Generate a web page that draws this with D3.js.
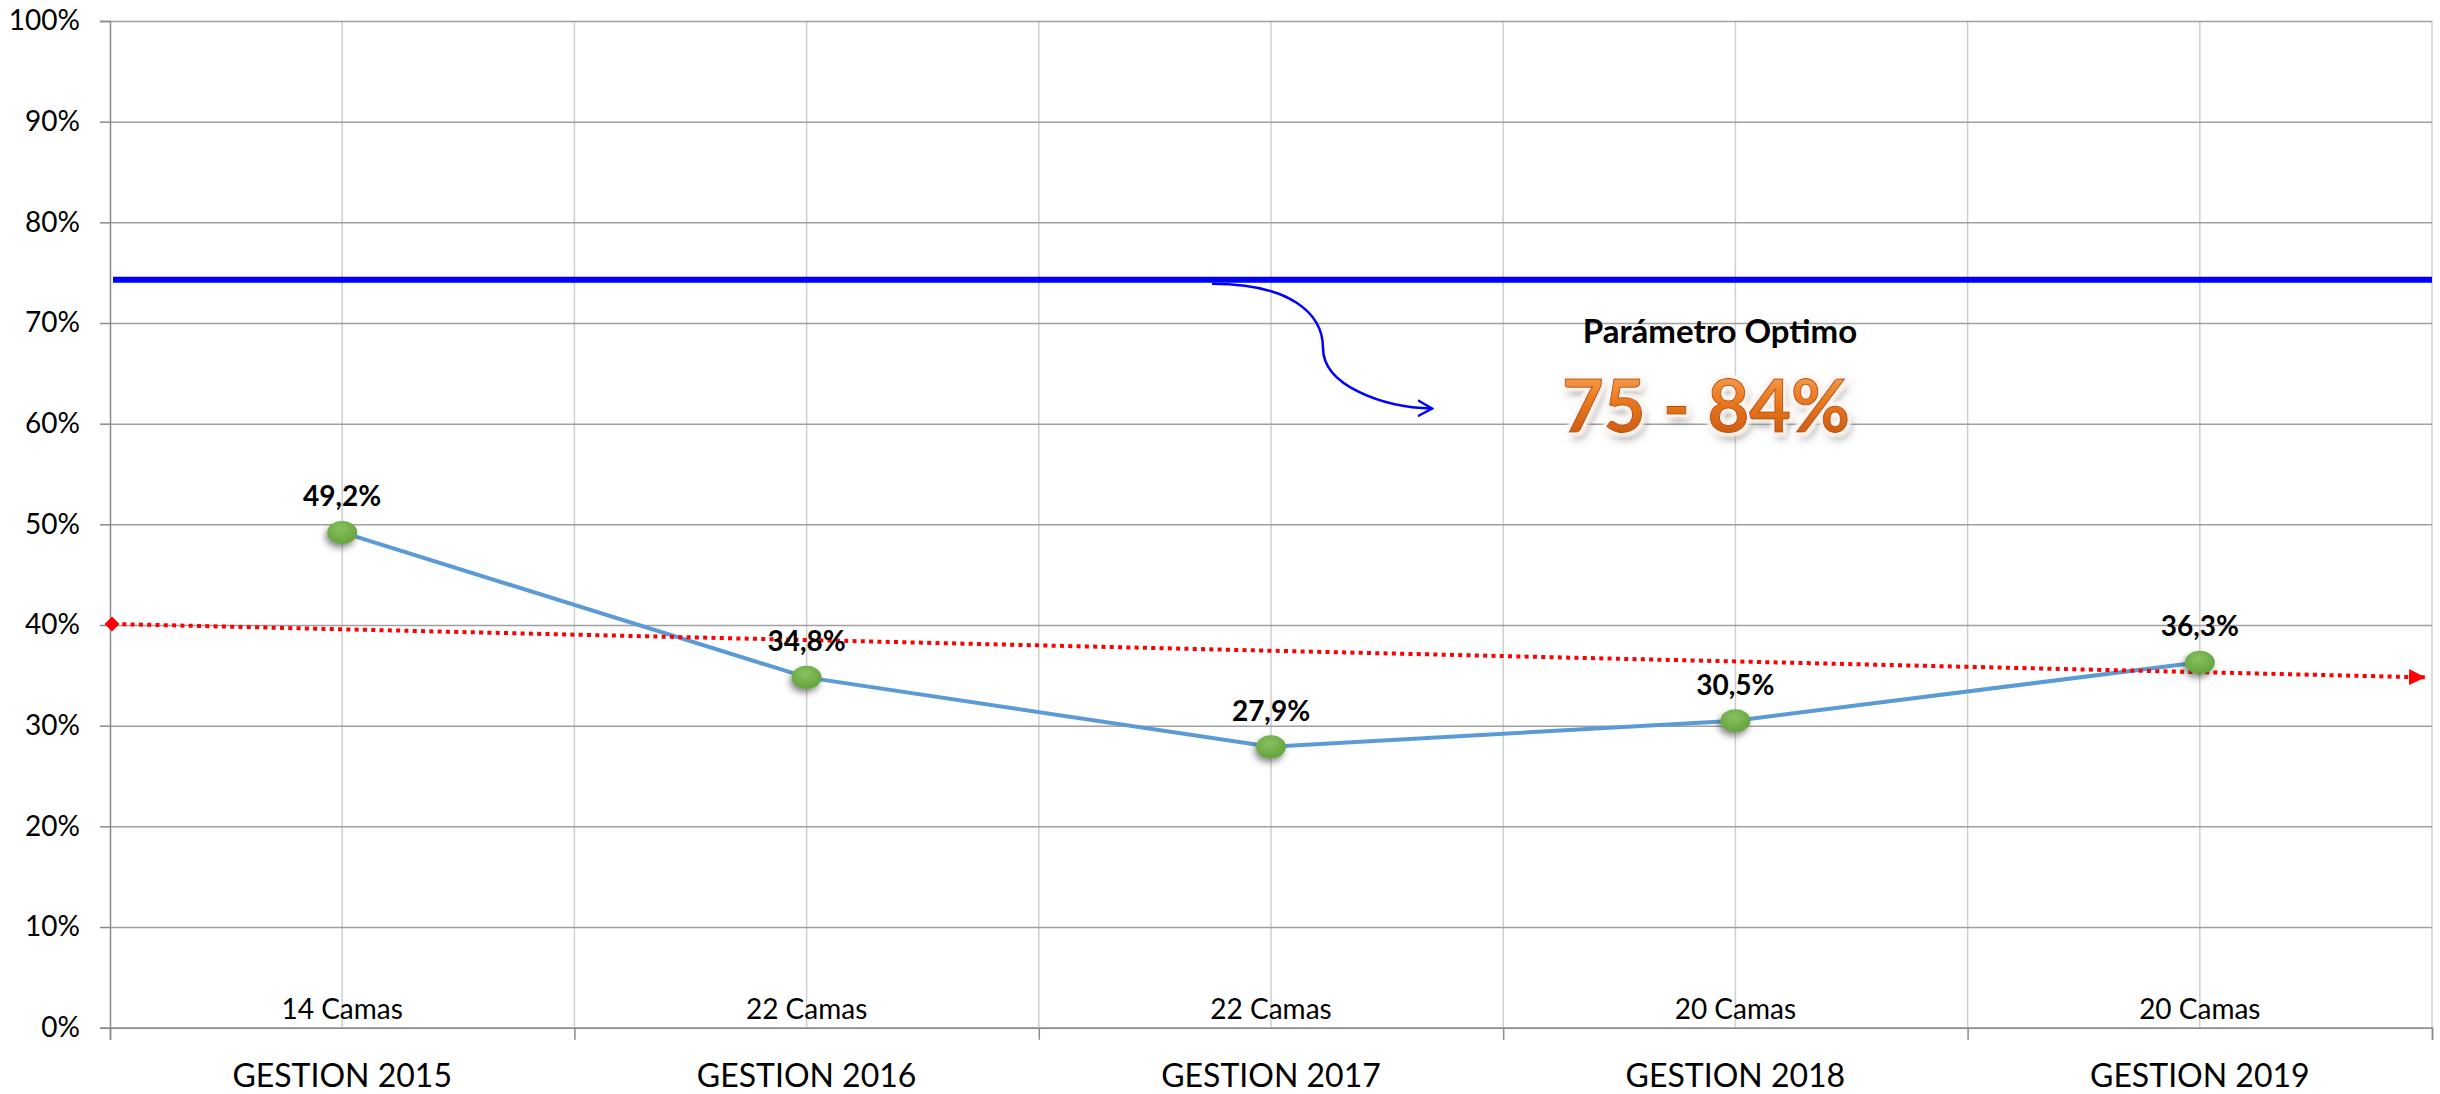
<!DOCTYPE html>
<html>
<head>
<meta charset="utf-8">
<script src="https://cdn.jsdelivr.net/npm/d3@7"></script>
<style>
  body { margin: 0; background: #fff; }
  svg { display: block; font-family: Lato, "Open Sans", sans-serif; }
</style>
</head>
<body>
<div id="chart"></div>
<script>
// data
var gestiones = ["GESTION 2015", "GESTION 2016", "GESTION 2017", "GESTION 2018", "GESTION 2019"];
var camas = ["14 Camas", "22 Camas", "22 Camas", "20 Camas", "20 Camas"];
var ocupacion = [49.2, 34.8, 27.9, 30.5, 36.3];
var yTicks = [0, 10, 20, 30, 40, 50, 60, 70, 80, 90, 100];
var optimo = 74.3;            // blue reference line
var tendencia = [40.1, 34.8]; // red dotted trend, start / end
var paramTitulo = "Parámetro Optimo";
var paramRango = "75 - 84%";

var svgWidth = 2440;
var svgHeight = 1094;
// plot box
var pLeft = 110, pRight = 2432, pTop = 21, pBottom = 1027.7;

var x = d3.scaleLinear().domain([0, gestiones.length]).range([pLeft, pRight]);
var y = d3.scaleLinear().domain([0, 100]).range([pBottom, pTop]);

var svg = d3.select("#chart")
    .append("svg")
    .attr("width", svgWidth)
    .attr("height", svgHeight);

var defs = svg.append("defs");

// marker look
var gGreen = defs.append("radialGradient").attr("id", "greenDot")
    .attr("cx", "45%").attr("cy", "35%").attr("r", "70%");
gGreen.append("stop").attr("offset", "0%").attr("stop-color", "#86c25e");
gGreen.append("stop").attr("offset", "100%").attr("stop-color", "#62a03a");

var shadow = defs.append("filter").attr("id", "dotShadow")
    .attr("x", "-60%").attr("y", "-60%").attr("width", "220%").attr("height", "240%");
shadow.append("feDropShadow").attr("dx", -2).attr("dy", 4)
    .attr("stdDeviation", 3).attr("flood-color", "#333").attr("flood-opacity", 0.55);

// orange big text
var gOrange = defs.append("linearGradient").attr("id", "orangeTxt")
    .attr("x1", 0).attr("y1", 0).attr("x2", 0).attr("y2", 1);
gOrange.append("stop").attr("offset", "0%").attr("stop-color", "#fbb06a");
gOrange.append("stop").attr("offset", "45%").attr("stop-color", "#ec7a1c");
gOrange.append("stop").attr("offset", "100%").attr("stop-color", "#c0520a");

var glow = defs.append("filter").attr("id", "glow")
    .attr("x", "-15%").attr("y", "-40%").attr("width", "130%").attr("height", "190%");
glow.append("feGaussianBlur").attr("in", "SourceAlpha").attr("stdDeviation", 4).attr("result", "sb");
glow.append("feOffset").attr("in", "sb").attr("dx", 3).attr("dy", 6).attr("result", "so");
glow.append("feFlood").attr("flood-color", "#555").attr("flood-opacity", 0.6).attr("result", "sc");
glow.append("feComposite").attr("in", "sc").attr("in2", "so").attr("operator", "in").attr("result", "shadow");
glow.append("feMorphology").attr("in", "SourceAlpha").attr("operator", "dilate").attr("radius", 3).attr("result", "dl");
glow.append("feGaussianBlur").attr("in", "dl").attr("stdDeviation", 1.5).attr("result", "dlb");
glow.append("feFlood").attr("flood-color", "#fff5ee").attr("result", "wc");
glow.append("feComposite").attr("in", "wc").attr("in2", "dlb").attr("operator", "in").attr("result", "white");
var merge = glow.append("feMerge");
merge.append("feMergeNode").attr("in", "shadow");
merge.append("feMergeNode").attr("in", "white");
merge.append("feMergeNode").attr("in", "SourceGraphic");

// arrow heads
defs.append("marker").attr("id", "redHead")
    .attr("viewBox", "0 0 10 10").attr("refX", 10).attr("refY", 5)
    .attr("markerUnits", "userSpaceOnUse").attr("markerWidth", 16).attr("markerHeight", 16)
    .attr("orient", "auto")
  .append("path").attr("d", "M0,0 L10,5 L0,10 Z").attr("fill", "#ff0000");

defs.append("marker").attr("id", "blueHead")
    .attr("viewBox", "0 0 10 10").attr("refX", 9).attr("refY", 5)
    .attr("markerUnits", "userSpaceOnUse").attr("markerWidth", 16).attr("markerHeight", 20)
    .attr("orient", "auto")
  .append("path").attr("d", "M0,0 L9,5 L0,10").attr("fill", "none")
    .attr("stroke", "#0000ff").attr("stroke-width", 1.5);

// vertical grid (centers + boundaries)
svg.append("g")
    .selectAll("line")
    .data(d3.range(0.5, gestiones.length + 0.01, 0.5))
    .enter()
    .append("line")
    .attr("x1", d => x(d)).attr("x2", d => x(d))
    .attr("y1", y(100)).attr("y2", y(0))
    .attr("stroke", "#cfcfcf").attr("stroke-width", 1.5);

// horizontal grid
svg.append("g")
    .attr("transform", "translate(" + pLeft + ",0)")
    .call(d3.axisLeft(y).tickValues(yTicks).tickSize(-(pRight - pLeft)).tickFormat(""))
    .call(g => g.select(".domain").remove())
    .selectAll("line").attr("stroke", "#a0a0a0").attr("stroke-width", 1.5);

// y axis
var yAxis = svg.append("g")
    .attr("transform", "translate(" + pLeft + ",0)")
    .call(d3.axisLeft(y).tickValues(yTicks).tickSize(10).tickPadding(20).tickFormat(d => d + "%"));
yAxis.select(".domain").attr("stroke", "#8a8a8a").attr("stroke-width", 1.5);
yAxis.selectAll("line").attr("stroke", "#8a8a8a").attr("stroke-width", 1.5);
yAxis.selectAll("text").attr("font-size", 28).attr("fill", "#000")
    .attr("font-family", "Lato, sans-serif");

// x axis (boundary ticks)
var xAxis = svg.append("g")
    .attr("transform", "translate(0," + y(0) + ")")
    .call(d3.axisBottom(x).tickValues(d3.range(0, gestiones.length + 1)).tickSize(12).tickFormat(""));
xAxis.select(".domain").attr("stroke", "#8a8a8a").attr("stroke-width", 1.5);
xAxis.selectAll("line").attr("stroke", "#8a8a8a").attr("stroke-width", 1.5);

// category labels
svg.append("g")
    .selectAll("text")
    .data(gestiones)
    .enter()
    .append("text")
    .attr("x", (d, i) => x(i + 0.5))
    .attr("y", 1087)
    .attr("text-anchor", "middle")
    .attr("font-size", 32)
    .attr("fill", "#000")
    .text(d => d);

svg.append("g")
    .selectAll("text")
    .data(camas)
    .enter()
    .append("text")
    .attr("x", (d, i) => x(i + 0.5))
    .attr("y", 1019)
    .attr("text-anchor", "middle")
    .attr("font-size", 28)
    .attr("fill", "#000")
    .text(d => d);

// optimum line
svg.append("line")
    .attr("x1", x(0) + 3).attr("x2", x(gestiones.length))
    .attr("y1", y(optimo)).attr("y2", y(optimo))
    .attr("stroke", "#0000ff").attr("stroke-width", 6);

// curved pointer to annotation
var curve = d3.path();
curve.moveTo(x(2.373), y(optimo) + 4);
curve.bezierCurveTo(x(2.54), y(optimo) + 4, x(2.612), y(71), x(2.612), y(67.5));
curve.bezierCurveTo(x(2.612), y(63.8), x(2.74), y(61.6), x(2.847), y(61.5));
svg.append("path")
    .attr("d", curve.toString())
    .attr("fill", "none")
    .attr("stroke", "#0000ff")
    .attr("stroke-width", 2.5)
    .attr("marker-end", "url(#blueHead)");

// annotation texts
svg.append("text")
    .attr("x", 1720).attr("y", 342.7)
    .attr("text-anchor", "middle")
    .attr("font-size", 33).attr("font-weight", "bold")
    .attr("fill", "#000")
    .text(paramTitulo);

svg.append("text")
    .attr("x", 1706).attr("y", 431.7)
    .attr("text-anchor", "middle")
    .attr("font-size", 72).attr("font-weight", "bold")
    .attr("fill", "url(#orangeTxt)")
    .attr("stroke", "#b64f06").attr("stroke-width", 1)
    .attr("filter", "url(#glow)")
    .text(paramRango);

// data line
var line = d3.line()
    .x((d, i) => x(i + 0.5))
    .y(d => y(d));

svg.append("path")
    .datum(ocupacion)
    .attr("d", line)
    .attr("fill", "none")
    .attr("stroke", "#5b9bd5")
    .attr("stroke-width", 4);

// trend line
svg.append("line")
    .attr("x1", x(0) + 4).attr("y1", y(tendencia[0]))
    .attr("x2", x(4.985)).attr("y2", y(tendencia[1]))
    .attr("stroke", "#ff0000")
    .attr("stroke-width", 4)
    .attr("stroke-dasharray", "4 4.3")
    .attr("marker-end", "url(#redHead)");

svg.append("path")
    .attr("d", d3.symbol().type(d3.symbolSquare).size(110)())
    .attr("transform", "translate(" + (x(0) + 2) + "," + y(tendencia[0]) + ") rotate(45)")
    .attr("fill", "#ff0000");

// markers
svg.append("g")
    .selectAll("ellipse")
    .data(ocupacion)
    .enter()
    .append("ellipse")
    .attr("cx", (d, i) => x(i + 0.5))
    .attr("cy", d => y(d))
    .attr("rx", 15)
    .attr("ry", 11.5)
    .attr("fill", "url(#greenDot)")
    .attr("filter", "url(#dotShadow)");

// value labels
svg.append("g")
    .selectAll("text")
    .data(ocupacion)
    .enter()
    .append("text")
    .attr("x", (d, i) => x(i + 0.5))
    .attr("y", d => y(d) - 26)
    .attr("text-anchor", "middle")
    .attr("font-size", 28)
    .attr("font-weight", "bold")
    .attr("fill", "#000")
    .text(d => d.toFixed(1).replace(".", ",") + "%");
</script>
</body>
</html>
